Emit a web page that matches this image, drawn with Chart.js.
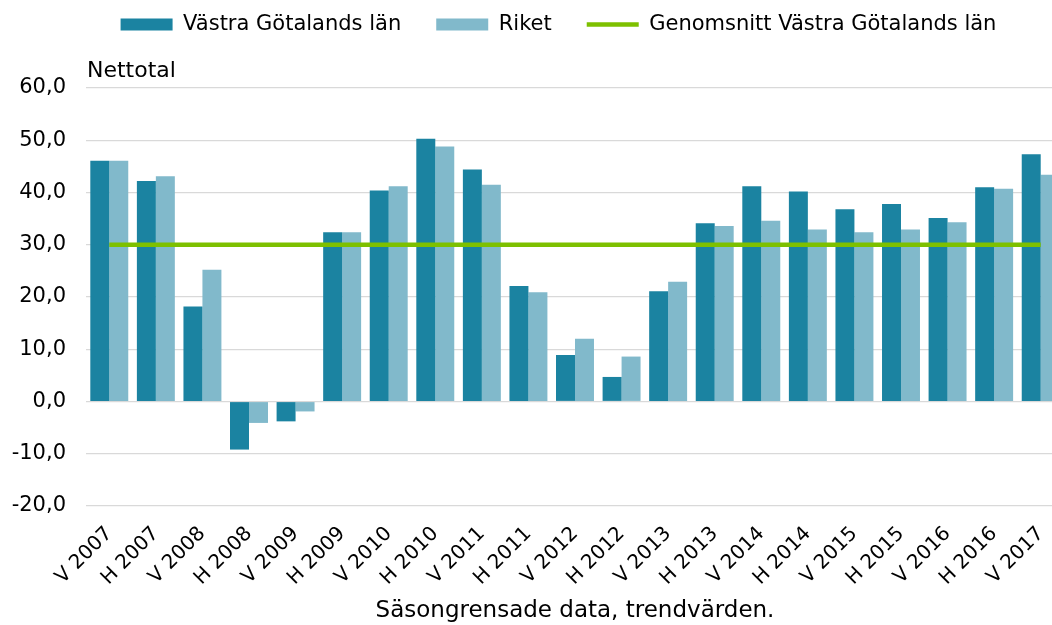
<!DOCTYPE html>
<html lang="sv">
<head>
<meta charset="utf-8">
<title>Nettotal – Västra Götalands län</title>
<script src="https://cdn.jsdelivr.net/npm/chart.js@4.4.1/dist/chart.umd.min.js"></script>
<style>
    html, body { margin: 0; padding: 0; background: #fff; overflow: hidden; }
    #wrap { position: relative; width: 1066px; height: 625px; }
</style>
</head>
<body>
<div id="wrap"><canvas id="chart"></canvas></div>
<script>
// Data
const categories = ['V 2007', 'H 2007', 'V 2008', 'H 2008', 'V 2009', 'H 2009', 'V 2010',
    'H 2010', 'V 2011', 'H 2011', 'V 2012', 'H 2012', 'V 2013', 'H 2013', 'V 2014',
    'H 2014', 'V 2015', 'H 2015', 'V 2016', 'H 2016', 'V 2017'];
const vastraGotaland = [46.1, 42.2, 18.2, -9.2, -3.8, 32.4, 40.4, 50.3, 44.4, 22.1, 8.9,
    4.7, 21.1, 34.1, 41.2, 40.2, 36.8, 37.8, 35.1, 41.0, 47.3];
const riket = [46.1, 43.1, 25.2, -4.1, -1.9, 32.4, 41.2, 48.8, 41.5, 20.9, 12.0,
    8.6, 22.9, 33.6, 34.6, 32.9, 32.4, 32.9, 34.3, 40.7, 43.4];
const genomsnitt = [30, 30, 30, 30, 30, 30, 30, 30, 30, 30, 30,
    30, 30, 30, 30, 30, 30, 30, 30, 30, 30];
const yMin = -20;
const yMax = 60;
const yStep = 10;

Chart.defaults.font.family = '"DejaVu Sans", sans-serif';
Chart.defaults.color = '#000';

// Extra room under the legend for the "Nettotal" label,
// and nudge the legend so it sits centred like the original
const legendTweak = {
    id: 'legendTweak',
    beforeInit(chart) {
        const fit = chart.legend.fit;
        chart.legend.fit = function () {
            fit.call(this);
            this.height += 43;
        };
    },
    afterLayout(chart) {
        chart.legend.left += 21;
        chart.legend.right += 21;
    }
};

// Unit label above the value axis
const unitLabel = {
    id: 'unitLabel',
    afterDraw(chart) {
        const ctx = chart.ctx;
        ctx.save();
        ctx.font = '22px "DejaVu Sans", sans-serif';
        ctx.fillStyle = '#000';
        ctx.textBaseline = 'alphabetic';
        ctx.fillText('Nettotal', chart.chartArea.left + 1, 77);
        ctx.restore();
    }
};

const ctx = document.getElementById('chart').getContext('2d');
new Chart(ctx, {
    type: 'bar',
    data: {
        labels: categories,
        datasets: [{
            label: 'Västra Götalands län',
            data: vastraGotaland,
            backgroundColor: '#1B83A1',
            borderWidth: 0,
            barPercentage: 1,
            categoryPercentage: 0.815,
            order: 1
        }, {
            label: 'Riket',
            data: riket,
            backgroundColor: '#81B9CB',
            borderWidth: 0,
            barPercentage: 1,
            categoryPercentage: 0.815,
            order: 1
        }, {
            type: 'line',
            label: 'Genomsnitt Västra Götalands län',
            data: genomsnitt,
            borderColor: '#7DC000',
            backgroundColor: '#7DC000',
            borderWidth: 4.5,
            pointRadius: 0,
            fill: false,
            order: 0
        }]
    },
    options: {
        responsive: true,
        maintainAspectRatio: false,
        animation: false,
        layout: {
            padding: { left: 11, right: 2, top: -21, bottom: 0 }
        },
        plugins: {
            legend: {
                position: 'top',
                labels: {
                    usePointStyle: true,
                    pointStyleWidth: 52,
                    boxHeight: 12,
                    padding: 35,
                    color: '#000',
                    font: { size: 21 },
                    sort: (a, b) => a.datasetIndex - b.datasetIndex,
                    generateLabels(chart) {
                        const items = Chart.defaults.plugins.legend.labels.generateLabels(chart);
                        items.forEach(item => {
                            item.pointStyle = item.datasetIndex === 2 ? 'line' : 'rect';
                        });
                        return items;
                    }
                }
            },
            tooltip: { enabled: false }
        },
        scales: {
            x: {
                grid: { display: false },
                border: { display: false },
                ticks: {
                    autoSkip: false,
                    minRotation: 45,
                    maxRotation: 45,
                    padding: 8,
                    color: '#000',
                    font: { size: 20 }
                },
                title: {
                    display: true,
                    text: 'Säsongrensade data, trendvärden.',
                    color: '#000',
                    font: { size: 23 },
                    padding: { top: 0, bottom: 0 }
                },
                afterFit: scale => { scale.height = 119; }
            },
            y: {
                min: yMin,
                max: yMax,
                ticks: {
                    stepSize: yStep,
                    padding: 20,
                    color: '#000',
                    font: { size: 21 },
                    callback: value => value.toFixed(1).replace('.', ',')
                },
                grid: { color: '#d9d9d9', lineWidth: 1.2, drawTicks: false },
                border: { display: false },
                afterFit: scale => { scale.width = 75; }
            }
        }
    },
    plugins: [legendTweak, unitLabel]
});
</script>
</body>
</html>
